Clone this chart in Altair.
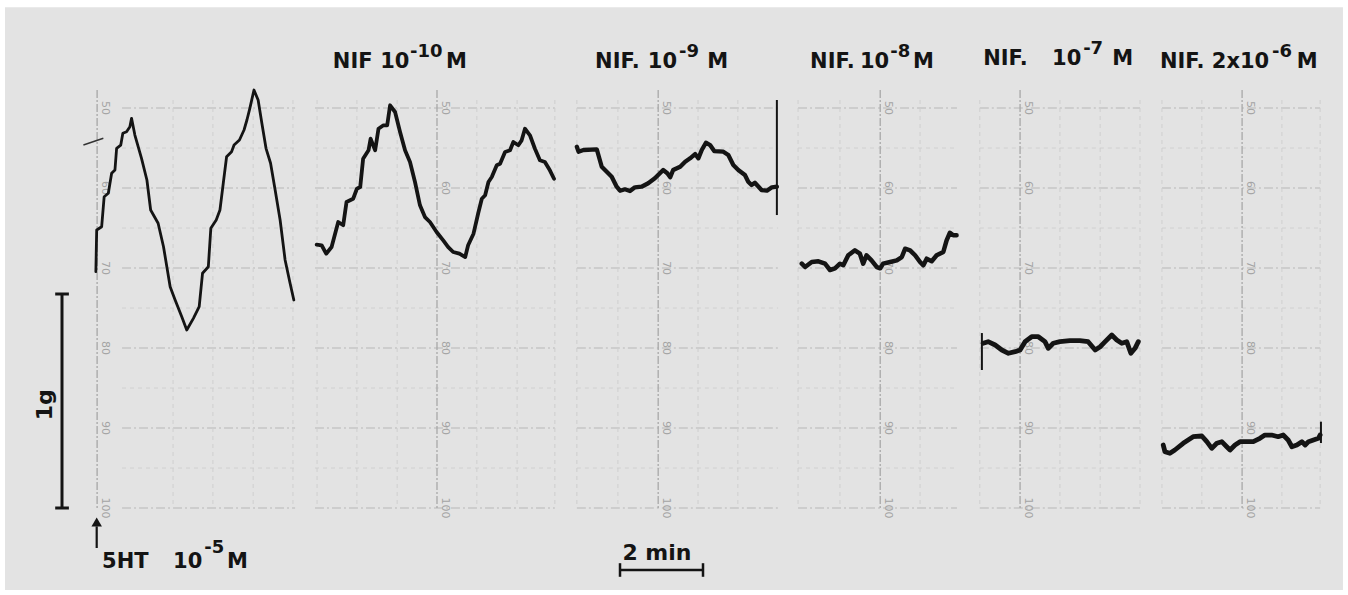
import altair as alt
import pandas as pd

# ---------------- data (time in minutes, tension in chart-paper units) -------------
# 5HT 10^-5 M (control)
t1 = [2.31, 2.33, 2.45, 2.51, 2.61, 2.69, 2.77, 2.81, 2.91, 2.96, 3.05, 3.13, 3.17, 3.25, 3.41, 3.54,
      3.63, 3.81, 3.94, 4.10, 4.22, 4.38, 4.50, 4.66, 4.80, 4.88, 5.02, 5.08, 5.21, 5.30, 5.38, 5.46,
      5.58, 5.64, 5.77, 5.88, 5.95, 6.02, 6.12, 6.22, 6.31, 6.41, 6.52, 6.63, 6.75, 6.87, 6.99, 7.08]
u1 = [70.46, 65.25, 64.84, 61.09, 60.66, 58.16, 57.75, 55.04, 54.63, 53.16, 52.96, 52.34, 51.29, 53.38,
      56.29, 59.0, 62.75, 64.41, 67.34, 72.34, 74.0, 76.09, 77.75, 76.29, 74.84, 70.66, 69.84, 65.04,
      64.0, 62.75, 59.41, 56.09, 55.46, 54.63, 54.0, 52.75, 51.5, 50.04, 47.75, 49.0, 51.91, 55.04,
      56.91, 60.25, 64.0, 69.0, 71.91, 74.0]
# NIF 10^-10 M
t2 = [7.63, 7.75, 7.86, 7.99, 8.15, 8.27, 8.35, 8.51, 8.60, 8.68, 8.75, 8.88, 8.93, 9.04, 9.12, 9.24,
      9.33, 9.40, 9.52, 9.64, 9.76, 9.88, 10.0, 10.12, 10.24, 10.36, 10.52, 10.68, 10.80, 10.92, 11.07,
      11.21, 11.28, 11.41, 11.53, 11.61, 11.69, 11.77, 11.85, 11.97, 12.05, 12.17, 12.29, 12.37, 12.49,
      12.57, 12.65, 12.77, 12.89, 13.01, 13.13, 13.25, 13.35]
u2 = [67.09, 67.16, 68.21, 67.38, 64.25, 64.66, 61.75, 61.34, 60.09, 59.88, 56.34, 55.29, 53.84, 55.29,
      52.59, 52.16, 52.16, 49.66, 50.5, 53.0, 55.29, 56.75, 59.25, 62.16, 63.63, 64.25, 65.5, 66.54,
      67.38, 68.0, 68.21, 68.63, 67.16, 65.71, 63.0, 61.34, 60.91, 59.25, 58.63, 57.16, 56.96, 55.5,
      55.29, 54.25, 54.66, 54.04, 52.59, 53.41, 55.09, 56.54, 56.75, 57.79, 58.84]
# NIF 10^-9 M
t3 = [13.90, 13.94, 14.06, 14.38, 14.50, 14.62, 14.74, 14.86, 14.94, 15.06, 15.18, 15.30, 15.46, 15.62,
      15.78, 15.98, 16.08, 16.15, 16.22, 16.39, 16.51, 16.63, 16.75, 16.83, 16.91, 17.01, 17.11, 17.21,
      17.43, 17.55, 17.67, 17.79, 17.95, 18.03, 18.11, 18.19, 18.35, 18.48, 18.60, 18.72]
u3 = [54.84, 55.46, 55.25, 55.16, 57.34, 57.96, 58.59, 59.84, 60.34, 60.16, 60.38, 59.91, 59.84, 59.41,
      58.79, 57.75, 58.16, 58.66, 57.75, 57.34, 56.71, 56.29, 55.75, 56.29, 55.25, 54.34, 54.63, 55.38,
      55.46, 55.88, 57.13, 57.75, 58.38, 59.21, 59.63, 59.34, 60.25, 60.34, 59.91, 59.84]
# NIF 10^-8 M
t4 = [19.32, 19.40, 19.56, 19.72, 19.88, 20.0, 20.12, 20.24, 20.32, 20.44, 20.60, 20.72, 20.80, 20.88,
      21.0, 21.13, 21.21, 21.28, 21.45, 21.61, 21.73, 21.81, 21.93, 22.05, 22.17, 22.25, 22.33, 22.45,
      22.57, 22.73, 22.81, 22.89, 22.97, 23.05]
u4 = [69.46, 69.88, 69.25, 69.16, 69.46, 70.25, 70.04, 69.46, 69.66, 68.41, 67.79, 68.21, 69.46, 68.41,
      69.04, 69.88, 70.04, 69.46, 69.25, 69.04, 68.63, 67.59, 67.79, 68.41, 69.25, 69.66, 68.84, 69.16,
      68.41, 68.0, 66.54, 65.59, 65.91, 65.91]
# NIF 10^-7 M
t5 = [23.69, 23.81, 23.98, 24.14, 24.30, 24.46, 24.58, 24.70, 24.86, 25.02, 25.18, 25.26, 25.38, 25.54,
      25.78, 26.02, 26.22, 26.39, 26.51, 26.63, 26.79, 26.91, 27.03, 27.15, 27.25, 27.35, 27.43]
u5 = [79.41, 79.21, 79.63, 80.25, 80.66, 80.46, 80.25, 79.21, 78.59, 78.59, 79.21, 80.04, 79.41, 79.21,
      79.09, 79.09, 79.21, 80.25, 79.84, 79.21, 78.38, 79.0, 79.41, 79.21, 80.66, 80.04, 79.21]
# NIF 2x10^-6 M
t6 = [28.03, 28.07, 28.19, 28.31, 28.51, 28.75, 28.96, 29.08, 29.20, 29.32, 29.44, 29.56, 29.64, 29.76,
      29.88, 30.04, 30.20, 30.36, 30.48, 30.64, 30.80, 30.92, 31.04, 31.13, 31.25, 31.37, 31.45, 31.53,
      31.65, 31.77, 31.81]
u6 = [92.13, 92.96, 93.16, 92.75, 91.91, 91.09, 91.0, 91.71, 92.54, 91.91, 91.71, 92.34, 92.75, 92.13,
      91.71, 91.71, 91.71, 91.29, 90.88, 90.88, 91.09, 90.88, 91.5, 92.34, 92.13, 91.71, 92.13, 91.71,
      91.5, 91.29, 90.88]

# chart-paper grid of each strip (minutes)
grid_main = [2.34, 10.53, 15.86, 21.21, 24.58, 29.93]
grid_left = [2.94, 7.59, 13.90, 19.23, 23.61, 28.00]
grid_right = [7.11, 13.37, 18.75, 23.06, 27.47, 31.81]
grid_minor = [[4.17, 5.13, 6.10, 7.06],
              [7.64, 8.60, 9.57, 11.49, 12.46, 13.37],
              [13.90, 14.89, 16.82, 17.78],
              [19.23, 20.24, 22.17],
              [23.61, 25.54, 26.51, 27.47],
              [28.00, 28.96, 30.89, 31.81]]
grid_major_levels = [50, 60, 70, 80, 90, 100]
grid_minor_levels = [55, 65, 75, 85, 95]

# pen marks: vertical event ticks (t, u_top, u_bottom)
tick_t = [18.72, 23.66, 31.83]
tick_top = [49.0, 78.13, 89.21]
tick_bot = [63.38, 82.75, 91.88]

# labels: text pieces (text, t, u, size)
lab_text = ["NIF", "10", "-10", "M",
            "NIF.", "10", "-9", "M",
            "NIF.", "10", "-8", "M",
            "NIF.", "10", "-7", "M",
            "NIF.", "2x10", "-6", "M",
            "5HT", "10", "-5", "M"]
lab_t = [8.02, 9.16, 9.88, 10.75,
         14.34, 15.61, 16.36, 17.04,
         19.52, 20.72, 21.45, 22.00,
         23.69, 25.35, 26.10, 26.80,
         27.95, 29.20, 30.65, 31.25,
         2.46, 4.17, 4.92, 5.47]
lab_u = [45.0, 45.0, 43.6, 45.0,
         45.0, 45.0, 43.6, 45.0,
         45.0, 45.0, 43.6, 45.0,
         44.625, 44.625, 43.25, 44.625,
         45.0, 45.0, 43.6, 45.0,
         107.5, 107.5, 105.6, 107.5]
lab_size = [21, 21, 18, 21] * 6

# ---------------- chart -------------
W, H = 1348, 595
xs = alt.Scale(domain=[0, 32.482], nice=False, zero=False)
ys = alt.Scale(domain=[36.5, 110.875], reverse=True, nice=False, zero=False)
X = lambda f: alt.X(f, type="quantitative", scale=xs, axis=None)
Y = lambda f: alt.Y(f, type="quantitative", scale=ys, axis=None)
INK = "#141414"
FONT = "DejaVu Sans"

layers = []

# paper background
bg = pd.DataFrame({"t0": [0.12], "t1": [32.36], "u0": [37.4], "u1": [110.25]})
layers.append(alt.Chart(bg).mark_rect(color="#e3e3e3").encode(
    x=X("t0"), x2="t1", y=Y("u0"), y2="u1"))

# grid
hrows, vrows, mrows, glab = [], [], [], []
for i in range(6):
    for lv in grid_major_levels:
        hrows.append({"t0": grid_left[i], "t1": grid_right[i], "u": lv, "k": "major"})
        glab.append({"t": grid_main[i] + 0.19, "u": lv, "s": str(lv)})
    for lv in grid_minor_levels:
        hrows.append({"t0": grid_left[i], "t1": grid_right[i], "u": lv, "k": "minor"})
    for tm in grid_minor[i]:
        vrows.append({"t": tm, "u0": 49.0, "u1": 100.0})
    mrows.append({"t": grid_main[i], "u0": 47.75, "u1": 100.25})
hdf = pd.DataFrame(hrows)
layers.append(alt.Chart(hdf[hdf.k == "minor"]).mark_rule(
    color="#d0d0d0", strokeWidth=1, strokeDash=[4, 4]).encode(
    x=X("t0"), x2="t1", y=Y("u")))
layers.append(alt.Chart(hdf[hdf.k == "major"]).mark_rule(
    color="#b8b8b8", strokeWidth=1.2, strokeDash=[9, 3, 2, 3]).encode(
    x=X("t0"), x2="t1", y=Y("u")))
layers.append(alt.Chart(pd.DataFrame(vrows)).mark_rule(
    color="#cfcfcf", strokeWidth=1, strokeDash=[4, 4]).encode(
    x=X("t"), y=Y("u0"), y2="u1"))
layers.append(alt.Chart(pd.DataFrame(mrows)).mark_rule(
    color="#a8a8a8", strokeWidth=1.3, strokeDash=[8, 2, 2, 2]).encode(
    x=X("t"), y=Y("u0"), y2="u1"))
layers.append(alt.Chart(pd.DataFrame(glab)).mark_text(
    angle=90, align="center", baseline="middle", fontSize=11, font=FONT, color="#a4a4a4").encode(
    x=X("t"), y=Y("u"), text="s:N"))

# recorded traces
for tt, uu, w in [(t1, u1, 2.8), (t2, u2, 3.8), (t3, u3, 4.3), (t4, u4, 4.5), (t5, u5, 4.8), (t6, u6, 4.8)]:
    df = pd.DataFrame({"t": tt, "u": uu, "i": range(len(tt))})
    layers.append(alt.Chart(df).mark_line(
        color=INK, strokeWidth=w, strokeJoin="round", strokeCap="round").encode(
        x=X("t"), y=Y("u"), order="i:Q"))

# small pen dash near first trace
layers.append(alt.Chart(pd.DataFrame({"t": [2.01, 2.49], "u": [54.63, 53.79]})).mark_line(
    color="#333333", strokeWidth=1.5).encode(x=X("t"), y=Y("u")))

# event ticks
layers.append(alt.Chart(pd.DataFrame({"t": tick_t, "a": tick_top, "b": tick_bot})).mark_rule(
    color=INK, strokeWidth=2).encode(x=X("t"), y=Y("a"), y2="b"))

# 1 g calibration bar
layers.append(alt.Chart(pd.DataFrame({"t": [1.494], "a": [73.25], "b": [100.0]})).mark_rule(
    color=INK, strokeWidth=3).encode(x=X("t"), y=Y("a"), y2="b"))
layers.append(alt.Chart(pd.DataFrame({"a": [1.33, 1.33], "b": [1.66, 1.66], "u": [73.25, 100.0]})).mark_rule(
    color=INK, strokeWidth=3).encode(x=X("a"), x2="b", y=Y("u")))
layers.append(alt.Chart(pd.DataFrame({"t": [1.084], "u": [87.1], "s": ["1g"]})).mark_text(
    angle=270, align="center", baseline="middle", fontSize=22, fontWeight="bold", font=FONT, color=INK).encode(
    x=X("t"), y=Y("u"), text="s:N"))

# 2 min time bar
layers.append(alt.Chart(pd.DataFrame({"a": [14.94], "b": [16.94], "u": [107.75]})).mark_rule(
    color=INK, strokeWidth=2.5).encode(x=X("a"), x2="b", y=Y("u")))
layers.append(alt.Chart(pd.DataFrame({"t": [14.94, 16.94], "a": [106.9, 106.9], "b": [108.6, 108.6]})).mark_rule(
    color=INK, strokeWidth=2.5).encode(x=X("t"), y=Y("a"), y2="b"))
layers.append(alt.Chart(pd.DataFrame({"t": [15.83], "u": [106.5], "s": ["2 min"]})).mark_text(
    align="center", baseline="alphabetic", fontSize=22, fontWeight="bold", font=FONT, color=INK).encode(
    x=X("t"), y=Y("u"), text="s:N"))

# 5HT addition arrow
layers.append(alt.Chart(pd.DataFrame({"t": [2.33], "a": [102.3], "b": [105.0]})).mark_rule(
    color=INK, strokeWidth=2.2).encode(x=X("t"), y=Y("a"), y2="b"))
layers.append(alt.Chart(pd.DataFrame({"t": [2.33], "u": [101.75]})).mark_point(
    shape="triangle-up", filled=True, size=110, color=INK, opacity=1).encode(x=X("t"), y=Y("u")))

# labels
ldf = pd.DataFrame({"s": lab_text, "t": lab_t, "u": lab_u, "fs": lab_size})
layers.append(alt.Chart(ldf).mark_text(
    align="left", baseline="alphabetic", fontWeight="bold", font=FONT, color=INK).encode(
    x=X("t"), y=Y("u"), text="s:N", size=alt.Size("fs:Q", scale=None)))

chart = alt.layer(*layers).properties(
    width=W, height=H, padding=0, background="white",
    autosize=alt.AutoSizeParams(type="none"),
).configure_view(stroke=None)

chart.save("out.html", embed_options={"renderer": "svg", "actions": False})
